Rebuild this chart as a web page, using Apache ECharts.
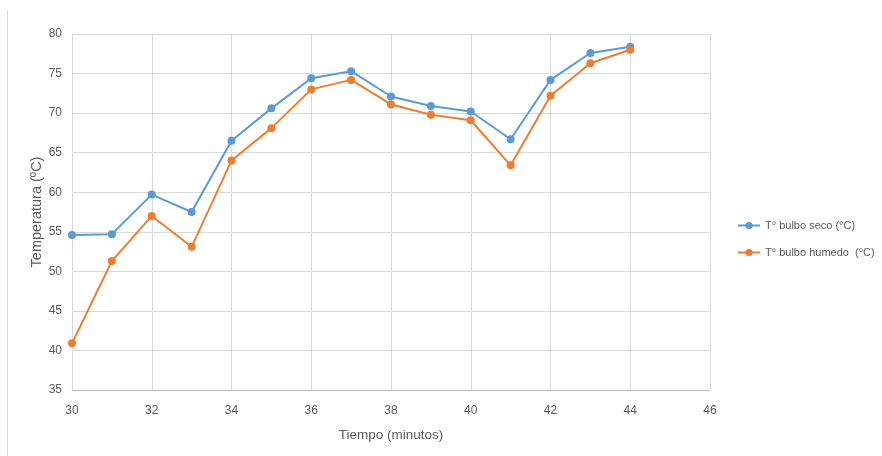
<!DOCTYPE html>
<html>
<head>
<meta charset="utf-8">
<script src="https://cdn.jsdelivr.net/npm/echarts@6/dist/echarts.min.js"></script>
<style>
  html, body { margin: 0; padding: 0; background: #fff; }
  #chart { width: 882px; height: 456px; }
</style>
</head>
<body>
<div id="chart"></div>
<script>
// Minutes of the test
const minutos = [30, 31, 32, 33, 34, 35, 36, 37, 38, 39, 40, 41, 42, 43, 44];
// Dry-bulb temperature (°C)
const bulboSeco = [54.6, 54.7, 59.7, 57.5, 66.5, 70.6, 74.4, 75.3, 72.1, 70.9, 70.2, 66.7, 74.2, 77.6, 78.4];
// Wet-bulb temperature (°C)
const bulboHumedo = [40.9, 51.3, 57.0, 53.1, 64.0, 68.1, 73.0, 74.2, 71.1, 69.8, 69.1, 63.4, 72.2, 76.3, 78.0];

const nombreSeco = 'T° bulbo seco (°C)';
const nombreHumedo = 'T° bulbo humedo  (°C)';

const fuente = '"Liberation Sans", Arial, sans-serif';
const gris = '#595959';

const chart = echarts.init(document.getElementById('chart'));

function serie(nombre, valores, color) {
  return {
    name: nombre,
    type: 'line',
    data: minutos.map((m, i) => [m, valores[i]]),
    symbol: 'circle',
    symbolSize: 8,
    lineStyle: { width: 2, color: color },
    itemStyle: { color: color },
    emphasis: { disabled: true }
  };
}

chart.setOption({
  animation: false,
  textStyle: { fontFamily: fuente },
  grid: { left: 72, right: 172, top: 34, bottom: 66, containLabel: false, show: false },
  legend: {
    orient: 'vertical',
    left: 737,
    top: 220,
    padding: 0,
    itemWidth: 22,
    itemHeight: 9,
    itemGap: 16,
    textStyle: { fontFamily: fuente, fontSize: 11, color: gris },
    data: [nombreSeco, nombreHumedo]
  },
  xAxis: {
    type: 'value',
    min: 30,
    max: 46,
    interval: 2,
    name: 'Tiempo (minutos)',
    nameLocation: 'middle',
    nameGap: 38,
    nameTextStyle: { fontFamily: fuente, fontSize: 13.5, color: gris },
    axisLine: { lineStyle: { color: '#bfbfbf', width: 1 } },
    axisTick: { show: false },
    axisLabel: { fontFamily: fuente, fontSize: 12, color: gris, margin: 15 },
    splitLine: { show: true, lineStyle: { color: '#d9d9d9', width: 1 } }
  },
  yAxis: {
    type: 'value',
    min: 35,
    max: 80,
    interval: 5,
    name: 'Temperatura (ºC)',
    nameLocation: 'middle',
    nameGap: 28,
    nameMoveOverlap: false,
    nameRotate: 90,
    nameTextStyle: { fontFamily: fuente, fontSize: 14.5, color: gris },
    axisLine: { show: false },
    axisTick: { show: false },
    axisLabel: { fontFamily: fuente, fontSize: 12, color: gris, margin: 10 },
    splitLine: { show: true, lineStyle: { color: '#d9d9d9', width: 1 } }
  },
  graphic: [
    {
      type: 'line',
      shape: { x1: 7.5, y1: 10, x2: 7.5, y2: 456 },
      style: { stroke: '#d9d9d9', lineWidth: 1 }
    },
    {
      type: 'line',
      shape: { x1: 710.5, y1: 34, x2: 710.5, y2: 390 },
      style: { stroke: '#d9d9d9', lineWidth: 1 }
    }
  ],
  series: [
    serie(nombreSeco, bulboSeco, '#5B9BD5'),
    serie(nombreHumedo, bulboHumedo, '#ED7D31')
  ]
});
</script>
</body>
</html>
